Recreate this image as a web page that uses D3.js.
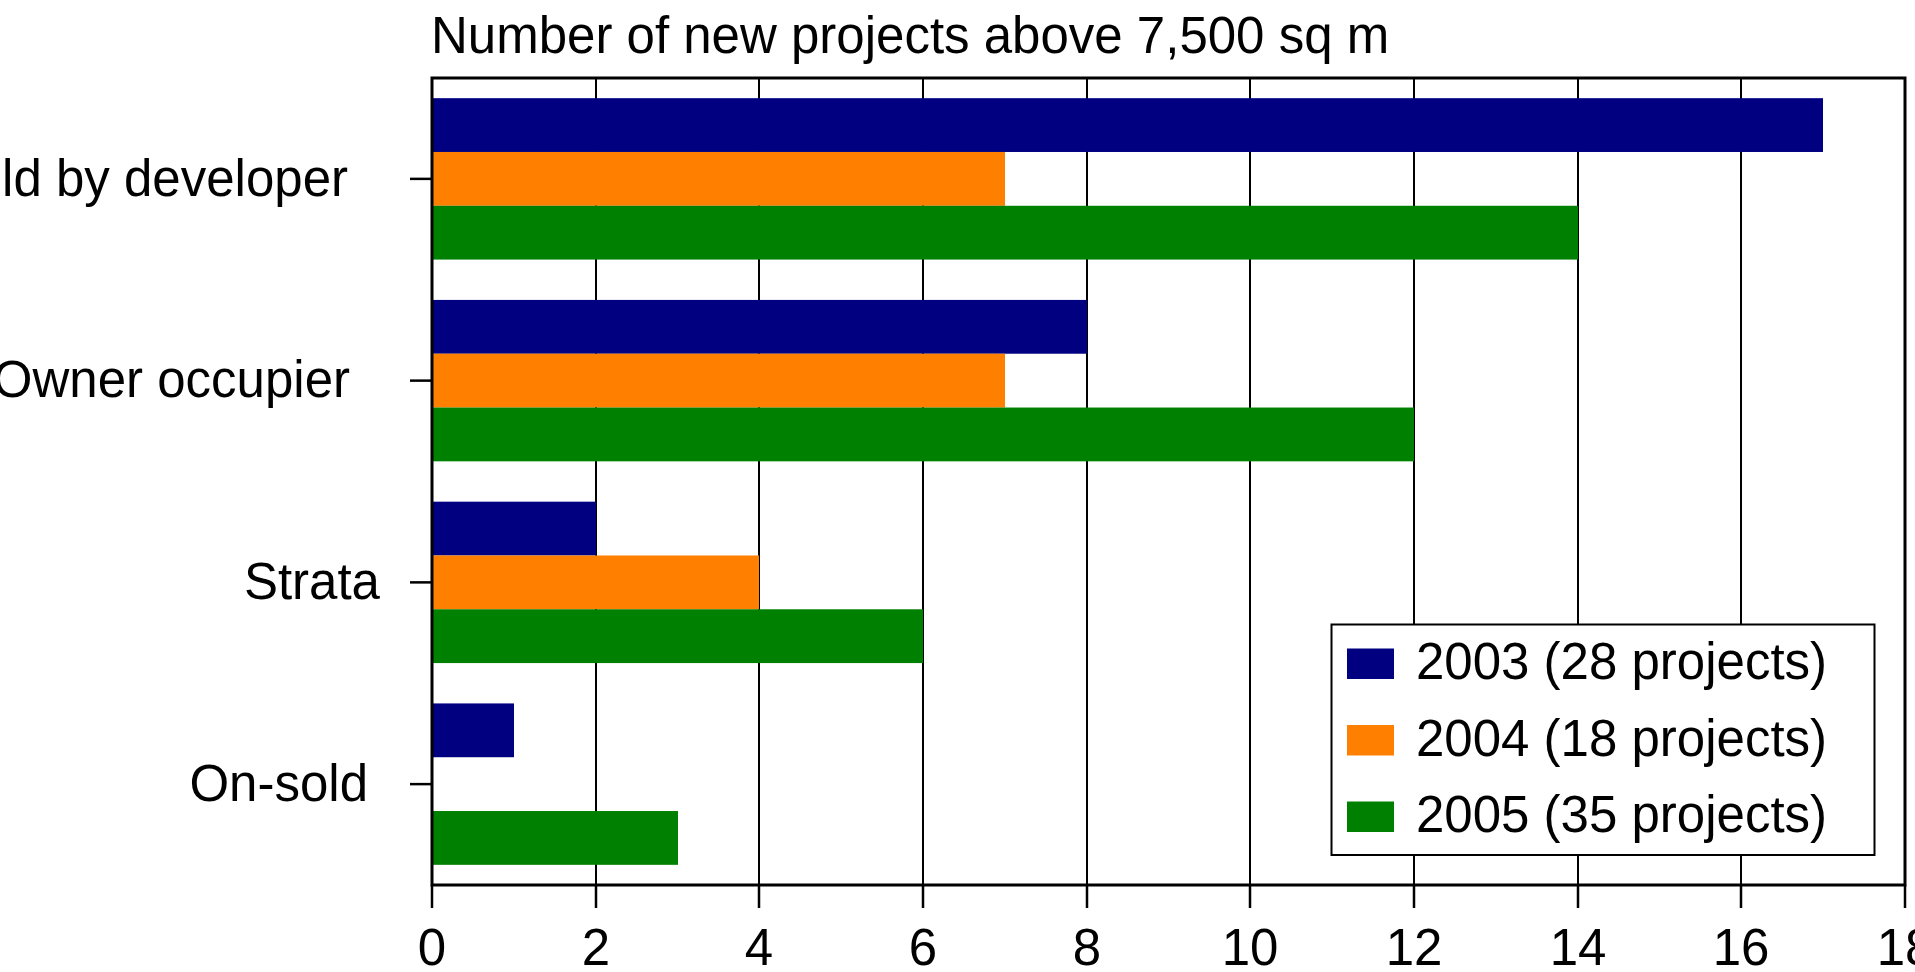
<!DOCTYPE html>
<html>
<head>
<meta charset="utf-8">
<script src="https://cdn.jsdelivr.net/npm/d3@7"></script>
<style>
  html, body { margin: 0; padding: 0; background: #fff; }
  svg { display: block; }
  text { font-family: "Liberation Sans", Arial, Helvetica, sans-serif; fill: #000; }
</style>
</head>
<body>
<svg id="chart" width="1915" height="972"></svg>
<script>
// Project categories (top to bottom) and yearly counts
const categories = ["Held by developer", "Owner occupier", "Strata", "On-sold"];
const years = ["2003", "2004", "2005"];
const values2003 = [17, 8, 2, 1];
const values2004 = [7, 7, 4, 0];
const values2005 = [14, 12, 6, 3];
const legendLabels = ["2003 (28 projects)", "2004 (18 projects)", "2005 (35 projects)"];
const xTicks = [0, 2, 4, 6, 8, 10, 12, 14, 16, 18];
const titleText = "Number of new projects above 7,500 sq m";

const seriesColors = ["#000080", "#ff8000", "#008000"];
// small horizontal nudges for the category labels (layout only)
const labelNudge = [-12, -10, 20, 8];

const seriesValues = [values2003, values2004, values2005];
const rows = categories.map((c, i) => ({
  category: c,
  bars: years.map((y, k) => ({ year: y, value: seriesValues[k][i], color: seriesColors[k] }))
}));

const W = 1915, H = 972;
const plot = { left: 432, right: 1905, top: 78, bottom: 885 };
const fontSize = 51;

const svg = d3.select("#chart");

const x = d3.scaleLinear().domain([0, 18]).range([plot.left, plot.right]).interpolate(d3.interpolateRound);
const y = d3.scaleBand().domain(categories).range([plot.top, plot.bottom]).paddingInner(0).paddingOuter(0);
const bw = y.bandwidth();
const yInner = d3.scaleBand().domain(years).range([bw * 0.1, bw * 0.9]).padding(0);

// vertical grid lines behind the bars
svg.append("g")
  .selectAll("line")
  .data(xTicks)
  .join("line")
  .attr("x1", d => x(d)).attr("x2", d => x(d))
  .attr("y1", plot.top).attr("y2", plot.bottom)
  .attr("stroke", "#000").attr("stroke-width", 2);

// bars
const groups = svg.append("g")
  .selectAll("g")
  .data(rows)
  .join("g")
  .attr("transform", d => `translate(0,${y(d.category)})`);

groups.selectAll("rect")
  .data(d => d.bars.filter(b => b.value > 0))
  .join("rect")
  .attr("x", x(0))
  .attr("y", d => yInner(d.year))
  .attr("width", d => x(d.value) - x(0))
  .attr("height", yInner.bandwidth())
  .attr("fill", d => d.color);

// bottom axis
const xAxis = d3.axisBottom(x)
  .tickValues(xTicks)
  .tickSize(23)
  .tickPadding(21)
  .tickFormat(d3.format("d"));
const gx = svg.append("g")
  .attr("transform", `translate(0,${plot.bottom})`)
  .call(xAxis);
gx.select(".domain").remove();
gx.selectAll(".tick").attr("transform", d => `translate(${x(d)},0)`);
gx.selectAll(".tick line").attr("stroke", "#000").attr("stroke-width", 2.5);
gx.selectAll(".tick text")
  .attr("font-size", fontSize)
  .attr("font-family", "Liberation Sans, Arial, sans-serif")
  .attr("fill", "#000");

// left axis
const yAxis = d3.axisLeft(y).tickSize(22).tickPadding(0);
const gy = svg.append("g")
  .attr("transform", `translate(${plot.left},0)`)
  .call(yAxis);
gy.select(".domain").remove();
gy.selectAll(".tick line").attr("stroke", "#000").attr("stroke-width", 2.5);
gy.selectAll(".tick text")
  .attr("font-size", fontSize)
  .attr("font-family", "Liberation Sans, Arial, sans-serif")
  .attr("fill", "#000")
  .attr("x", (d, i) => -72 + labelNudge[i])
  .attr("dy", "0.33em");

// frame around the plot
svg.append("rect")
  .attr("x", plot.left).attr("y", plot.top)
  .attr("width", plot.right - plot.left)
  .attr("height", plot.bottom - plot.top)
  .attr("fill", "none")
  .attr("stroke", "#000")
  .attr("stroke-width", 3);

// title
svg.append("text")
  .attr("x", plot.left - 1)
  .attr("y", 53)
  .attr("font-size", fontSize)
  .text(titleText);

// legend
const legend = { x: 1331.5, y: 624.5, w: 543, h: 230.5, row: 76.5 };
const lg = svg.append("g").attr("transform", `translate(${legend.x},${legend.y})`);
lg.append("rect")
  .attr("width", legend.w).attr("height", legend.h)
  .attr("fill", "#fff").attr("stroke", "#000").attr("stroke-width", 2);
const items = lg.selectAll("g.item")
  .data(legendLabels.map((l, k) => ({ label: l, color: seriesColors[k] })))
  .join("g")
  .attr("class", "item")
  .attr("transform", (d, i) => `translate(0,${24 + i * legend.row})`);
items.append("rect")
  .attr("x", 15.5).attr("y", 0)
  .attr("width", 47).attr("height", 30.5)
  .attr("fill", d => d.color);
items.append("text")
  .attr("x", 84.5)
  .attr("y", 30.5)
  .attr("font-size", fontSize)
  .text(d => d.label);
</script>
</body>
</html>
